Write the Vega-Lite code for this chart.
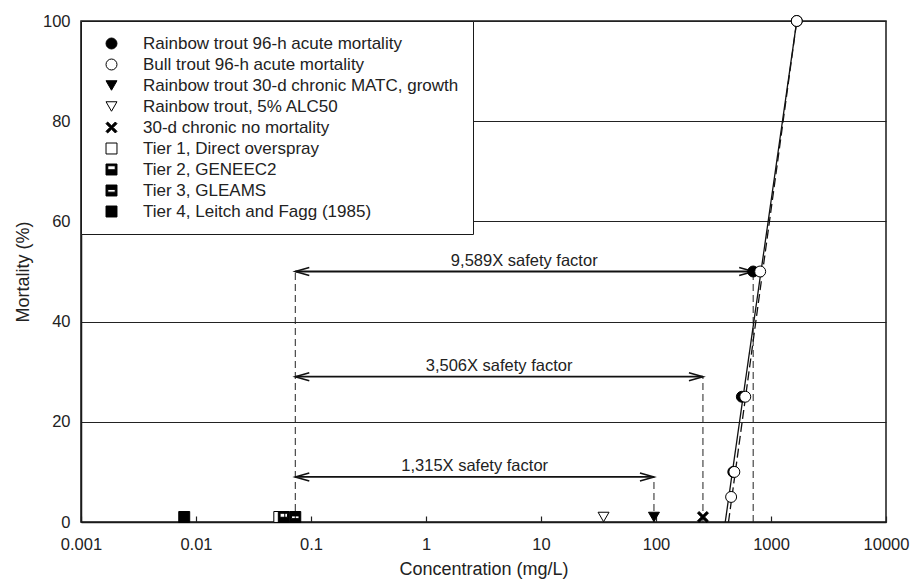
{
  "$schema": "https://vega.github.io/schema/vega-lite/v6.json",
  "width": 805,
  "height": 501,
  "autosize": {"type": "none"},
  "padding": {"left": 81, "top": 21, "right": 27, "bottom": 61},
  "background": "white",
  "config": {
    "font": "Liberation Sans",
    "view": {"stroke": "#1a1a1a", "strokeWidth": 1.5},
    "legend": {
      "orient": "none",
      "legendX": 0,
      "legendY": 0,
      "fillColor": "white",
      "strokeColor": "#1a1a1a",
      "padding": 14,
      "symbolOffset": 8,
      "labelOffset": 23,
      "rowPadding": 3,
      "symbolSize": 120,
      "symbolStrokeWidth": 1,
      "labelFontSize": 17,
      "labelFont": "Liberation Sans",
      "labelColor": "#222",
      "labelLimit": 500
    }
  },
  "datasets": {
    "points": [
      {"series": "Tier 4, Leitch and Fagg (1985)", "conc": 0.0079, "pct": 1},
      {"series": "Tier 1, Direct overspray", "conc": 0.053, "pct": 1},
      {"series": "Tier 2, GENEEC2", "conc": 0.058, "pct": 1},
      {"series": "Tier 3, GLEAMS", "conc": 0.073, "pct": 1},
      {"series": "Rainbow trout, 5% ALC50", "conc": 35, "pct": 1},
      {"series": "Rainbow trout 30-d chronic MATC, growth", "conc": 96, "pct": 1},
      {"series": "30-d chronic no mortality", "conc": 256, "pct": 1},
      {"series": "Rainbow trout 96-h acute mortality", "conc": 470, "pct": 10},
      {"series": "Rainbow trout 96-h acute mortality", "conc": 558, "pct": 25},
      {"series": "Rainbow trout 96-h acute mortality", "conc": 700, "pct": 50},
      {"series": "Rainbow trout 96-h acute mortality", "conc": 1675, "pct": 100},
      {"series": "Bull trout 96-h acute mortality", "conc": 450, "pct": 5},
      {"series": "Bull trout 96-h acute mortality", "conc": 480, "pct": 10},
      {"series": "Bull trout 96-h acute mortality", "conc": 597, "pct": 25},
      {"series": "Bull trout 96-h acute mortality", "conc": 805, "pct": 50},
      {"series": "Bull trout 96-h acute mortality", "conc": 1675, "pct": 100}
    ],
    "fits": [
      {"fit": "Rainbow trout fit", "conc": 400, "pct": 0},
      {"fit": "Rainbow trout fit", "conc": 1675, "pct": 100},
      {"fit": "Bull trout fit", "conc": 427, "pct": 0},
      {"fit": "Bull trout fit", "conc": 1675, "pct": 100}
    ],
    "drops": [
      {"conc": 0.073, "bottom": 0, "top": 50},
      {"conc": 256, "bottom": 0, "top": 29},
      {"conc": 96, "bottom": 0, "top": 9},
      {"conc": 700, "bottom": 0, "top": 50}
    ],
    "arrows": [
      {"label": "9,589X safety factor", "lo": 0.073, "hi": 700, "mid": 7.15, "pct": 50},
      {"label": "3,506X safety factor", "lo": 0.073, "hi": 256, "mid": 4.32, "pct": 29},
      {"label": "1,315X safety factor", "lo": 0.073, "hi": 96, "mid": 2.65, "pct": 9}
    ]
  },
  "layer": [
    {
      "data": {"name": "drops"},
      "mark": {"type": "rule", "strokeDash": [7, 4], "strokeWidth": 1, "color": "#222"},
      "encoding": {
        "x": {
          "field": "conc", "type": "quantitative",
          "scale": {"type": "log", "domain": [0.001, 10000], "nice": false},
          "title": "Concentration (mg/L)",
          "axis": {
            "values": [0.001, 0.01, 0.1, 1, 10, 100, 1000, 10000],
            "format": "~g",
            "labelFontSize": 16.5,
            "labelColor": "#222",
            "labelPadding": 20,
            "labelFlush": false,
            "tickSize": -6,
            "tickColor": "#222",
            "tickWidth": 1.2,
            "domainColor": "#1a1a1a",
            "domainWidth": 1.5,
            "grid": false,
            "titleFontSize": 18,
            "titleFontWeight": "normal",
            "titleColor": "#222",
            "titlePadding": 8
          }
        },
        "y": {
          "field": "bottom", "type": "quantitative",
          "scale": {"domain": [0, 100], "nice": false},
          "title": "Mortality (%)",
          "axis": {
            "values": [0, 20, 40, 60, 80, 100],
            "labelFontSize": 16.5,
            "labelColor": "#222",
            "labelPadding": 11,
            "ticks": false,
            "domainColor": "#1a1a1a",
            "domainWidth": 1.5,
            "grid": true,
            "gridColor": "#222",
            "gridWidth": 1.2,
            "titleFontSize": 18,
            "titleFontWeight": "normal",
            "titleColor": "#222",
            "titlePadding": 10
          }
        },
        "y2": {"field": "top"}
      }
    },
    {
      "data": {"name": "fits"},
      "mark": {"type": "line", "color": "#111", "strokeWidth": 1.3},
      "encoding": {
        "x": {"field": "conc", "type": "quantitative", "title": "Concentration (mg/L)"},
        "y": {"field": "pct", "type": "quantitative", "title": "Mortality (%)"},
        "strokeDash": {
          "field": "fit", "type": "nominal",
          "scale": {"domain": ["Rainbow trout fit", "Bull trout fit"], "range": [[1, 0], [9, 4]]},
          "legend": null
        }
      }
    },
    {
      "data": {"name": "arrows"},
      "mark": {"type": "rule", "color": "#111", "strokeWidth": 1.8},
      "encoding": {
        "x": {"field": "lo", "type": "quantitative", "title": "Concentration (mg/L)"},
        "x2": {"field": "hi"},
        "y": {"field": "pct", "type": "quantitative", "title": "Mortality (%)"}
      }
    },
    {
      "data": {"name": "arrows"},
      "mark": {"type": "point", "shape": "M2,-0.57L0,0L2,0.57", "filled": false, "stroke": "#111", "strokeWidth": 1.6, "size": 196, "opacity": 1},
      "encoding": {
        "x": {"field": "lo", "type": "quantitative", "title": "Concentration (mg/L)"},
        "y": {"field": "pct", "type": "quantitative", "title": "Mortality (%)"}
      }
    },
    {
      "data": {"name": "arrows"},
      "mark": {"type": "point", "shape": "M-2,-0.57L0,0L-2,0.57", "filled": false, "stroke": "#111", "strokeWidth": 1.6, "size": 196, "opacity": 1},
      "encoding": {
        "x": {"field": "hi", "type": "quantitative", "title": "Concentration (mg/L)"},
        "y": {"field": "pct", "type": "quantitative", "title": "Mortality (%)"}
      }
    },
    {
      "data": {"name": "arrows"},
      "mark": {"type": "text", "fontSize": 16.5, "color": "#222", "dy": -11, "align": "center", "baseline": "middle"},
      "encoding": {
        "x": {"field": "mid", "type": "quantitative", "title": "Concentration (mg/L)"},
        "y": {"field": "pct", "type": "quantitative", "title": "Mortality (%)"},
        "text": {"field": "label"}
      }
    },
    {
      "data": {"name": "points"},
      "mark": {"type": "point", "filled": true, "strokeWidth": 1, "size": 120, "opacity": 1},
      "encoding": {
        "x": {"field": "conc", "type": "quantitative", "title": "Concentration (mg/L)"},
        "y": {"field": "pct", "type": "quantitative", "title": "Mortality (%)"},
        "shape": {
          "field": "series", "type": "nominal",
          "scale": {
            "domain": ["Rainbow trout 96-h acute mortality", "Bull trout 96-h acute mortality", "Rainbow trout 30-d chronic MATC, growth", "Rainbow trout, 5% ALC50", "30-d chronic no mortality", "Tier 1, Direct overspray", "Tier 2, GENEEC2", "Tier 3, GLEAMS", "Tier 4, Leitch and Fagg (1985)"],
            "range": ["circle", "circle", "triangle-down", "triangle-down", "M-1,-0.7L-0.7,-1L0,-0.3L0.7,-1L1,-0.7L0.3,0L1,0.7L0.7,1L0,0.3L-0.7,1L-1,0.7L-0.3,0Z", "square", "M-1,-1L1,-1L1,1L-1,1Z M-0.68,-0.68L-0.68,0.05L0.68,0.05L0.68,-0.68Z", "M-1,-1L1,-1L1,1L-1,1Z M-0.68,-0.2L-0.68,0.3L0.68,0.3L0.68,-0.2Z", "square"]
          },
          "legend": {"title": null}
        },
        "fill": {
          "field": "series", "type": "nominal",
          "scale": {
            "domain": ["Rainbow trout 96-h acute mortality", "Bull trout 96-h acute mortality", "Rainbow trout 30-d chronic MATC, growth", "Rainbow trout, 5% ALC50", "30-d chronic no mortality", "Tier 1, Direct overspray", "Tier 2, GENEEC2", "Tier 3, GLEAMS", "Tier 4, Leitch and Fagg (1985)"],
            "range": ["black", "white", "black", "white", "black", "white", "black", "black", "black"]
          },
          "legend": {"title": null}
        },
        "stroke": {
          "field": "series", "type": "nominal",
          "scale": {
            "domain": ["Rainbow trout 96-h acute mortality", "Bull trout 96-h acute mortality", "Rainbow trout 30-d chronic MATC, growth", "Rainbow trout, 5% ALC50", "30-d chronic no mortality", "Tier 1, Direct overspray", "Tier 2, GENEEC2", "Tier 3, GLEAMS", "Tier 4, Leitch and Fagg (1985)"],
            "range": ["black", "black", "black", "black", "black", "black", "black", "black", "black"]
          },
          "legend": {"title": null}
        }
      }
    }
  ]
}
